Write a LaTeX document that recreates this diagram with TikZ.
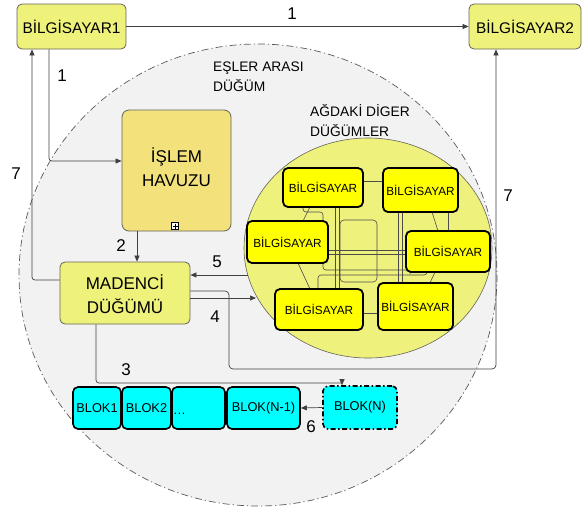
\documentclass[tikz,border=0pt]{standalone}
\usepackage{fontspec}
\setmainfont{Liberation Sans}
\usetikzlibrary{arrows.meta,calc}
\definecolor{pcyel}{RGB}{238,241,122}
\definecolor{poolcol}{RGB}{243,226,124}
\definecolor{netcol}{RGB}{238,241,124}
\definecolor{bigfill}{RGB}{242,242,242}
\definecolor{bigline}{RGB}{90,90,90}
\definecolor{pcs}{RGB}{255,255,0}
\definecolor{blkcol}{RGB}{0,255,255}
\definecolor{conncol}{RGB}{64,64,64}
\definecolor{bordcol}{RGB}{100,100,90}
\begin{document}
\begin{tikzpicture}[x=1pt,y=-1pt,
  pcbig/.style={draw=bordcol, fill=pcyel, rounded corners=5pt, inner sep=0pt, line width=0.8pt,
    font=\fontsize{15.4}{18}\selectfont},
  pool/.style={draw=bordcol, fill=poolcol, rounded corners=7pt, inner sep=0pt, line width=0.8pt},
  miner/.style={draw=bordcol, fill=pcyel, rounded corners=5pt, inner sep=0pt, line width=0.8pt},
  bigtxt/.style={align=center, inner sep=0pt, font=\fontsize{17}{24}\selectfont},
  pcsmall/.style={draw=black, fill=pcs, rounded corners=5pt, inner sep=0pt, line width=1.8pt,
    font=\fontsize{11.8}{14}\selectfont},
  blk/.style={draw=black, fill=blkcol, rounded corners=5pt, inner sep=0pt, line width=1.6pt,
    minimum height=42pt, font=\fontsize{12.8}{15}\selectfont},
  conn/.style={draw=conncol, line width=0.7pt, -{Triangle[length=6pt,width=5pt]}},
  plain/.style={draw=conncol, line width=0.7pt},
  netline/.style={draw=black!70, line width=0.6pt},
  num/.style={font=\fontsize{17}{20}\selectfont, inner sep=0pt},
  lab/.style={font=\fontsize{13.8}{20}\selectfont, align=left, anchor=north west, inner sep=0pt}
]
\useasboundingbox (0,0) rectangle (583,509);

% big peer-to-peer ellipse
\draw[fill=bigfill, draw=bigline, line width=0.7pt, dash pattern=on 7pt off 3pt on 1.2pt off 3pt]
  (258,275) ellipse [x radius=239, y radius=231];
\node[lab] (lbl1) at (213,62) {EŞLER ARASI\\DÜĞÜM};

% network ellipse
\draw[fill=netcol, draw=bordcol, line width=0.6pt] (368,248) ellipse [x radius=124, y radius=110];
\node[lab] (lbl2) at (310,104.5) {AĞDAKİ DİGER\\DÜĞÜMLER};

% interconnection lines
\draw[netline] (363,181) -- (383,181);
\draw[netline] (363,313) -- (378,313);
\draw[netline] (310,207) -- (303,221);
\draw[netline] (298,263) -- (310,289);
\draw[netline] (432,212) -- (438,231);
\draw[netline] (435,272) -- (430,283);
\draw[netline] (448,212) -- (448,231);
\draw[netline] (335,207) -- (335,289);
\draw[netline] (339,207) -- (339,289);
\draw[netline] (398,212) -- (398,283);
\draw[netline] (402,212) -- (402,283);
\draw[netline] (328,250) -- (406,250);
\draw[netline] (328,254) -- (406,254);
\draw[netline, rounded corners=4pt] (340,220) rectangle (377,282);
\draw[netline, rounded corners=3pt] (318,289) -- (318,275) -- (427,275) -- (427,272);
\draw[netline, rounded corners=3pt] (303,207) -- (303,212) -- (323,212) -- (323,221);
\draw[netline, rounded corners=3pt] (323,263) -- (323,270) -- (410,270) -- (410,272);

% small computers
\node[pcsmall, minimum width=80pt, minimum height=39pt] (n1) at (323,187.5) {BİLGİSAYAR};
\node[pcsmall, minimum width=75pt, minimum height=44pt] (n2) at (420.5,190) {BİLGİSAYAR};
\node[pcsmall, minimum width=81pt, minimum height=42pt] (n3) at (287.5,242) {BİLGİSAYAR};
\node[pcsmall, minimum width=84pt, minimum height=41pt] (n4) at (448,251.5) {BİLGİSAYAR};
\node[pcsmall, minimum width=88pt, minimum height=41pt] (n5) at (319,309.5) {BİLGİSAYAR};
\node[pcsmall, minimum width=75pt, minimum height=47pt] (n6) at (415.5,306.5) {BİLGİSAYAR};

% main nodes
\node[pcbig, minimum width=109pt, minimum height=45pt] (pc1) at (71.5,26.5) {BİLGİSAYAR1};
\node[pcbig, minimum width=112pt, minimum height=45pt] (pc2) at (525,26.5) {BİLGİSAYAR2};
\node[pool, minimum width=109pt, minimum height=121pt] (islem) at (176.5,170.5) {};
\node[bigtxt] (islemtxt) at (176.5,167) {İŞLEM\\HAVUZU};
\draw[line width=0.4pt, fill=white] (171.5,222.5) rectangle (178.5,229.5);
\draw[line width=0.4pt] (175,223.5) -- (175,228.5) (172.5,226) -- (177.5,226);
\node[miner, minimum width=130pt, minimum height=62pt] (mad) at (125,293) {};
\node[bigtxt] (madtxt) at (125,294.5) {MADENCİ\\DÜĞÜMÜ};

% blocks
\node[blk, minimum width=48pt] (b1) at (97,408) {BLOK1};
\node[blk, minimum width=49pt] (b2) at (146.5,408) {BLOK2};
\node[blk, minimum width=53pt] (b3) at (198.5,408) {};
\node[anchor=base west, inner sep=0pt, font=\fontsize{12.8}{15}\selectfont] (dots) at (173,414) {…};
\node[blk, minimum width=73pt] (b4) at (263.5,408) {BLOK(N-1)};
\node[blk, minimum width=74pt, minimum height=43pt, dash pattern=on 5pt off 2.5pt on 1.5pt off 2.5pt] (bn) at (360,407.5) {BLOK(N)};

% connectors
\draw[conn] (pc1.east) -- (pc2.west);
\node[num] (l1a) at (292,14) {1};

\coordinate (c1) at (49,161);
\draw[conn, rounded corners=3pt] (pc1.south -| c1) -- (c1) -- (islem.west |- c1);
\node[num] (l1b) at (62,76) {1};

\coordinate (c7a) at (32,280);
\draw[conn, rounded corners=3pt] (mad.west |- c7a) -- (c7a) -- (pc1.south -| c7a);
\node[num] (l7a) at (16,174) {7};

\coordinate (c2) at (137,250);
\draw[conn] (islem.south -| c2) -- (mad.north -| c2);
\node[num] (l2) at (121,246) {2};

\coordinate (c5) at (248,275);
\draw[conn] (c5) -- (mad.east |- c5);
\node[num] (l5) at (217,262) {5};

\coordinate (c4) at (256,298);
\draw[conn] (mad.east |- c4) -- (c4);
\node[num] (l4) at (215,317) {4};

\coordinate (c7b) at (229,291);
\coordinate (c7c) at (496,369);
\draw[conn, rounded corners=4pt] (mad.east |- c7b) -- (c7b) |- (c7c) -- (pc2.south -| c7c);
\node[num] (l7b) at (508,196) {7};

\coordinate (c3) at (96,383);
\coordinate (c3b) at (342,380.5);
\draw[plain, rounded corners=3pt] (mad.south -| c3) -- (c3) -- (c3 -| c3b);
\draw[conn] (c3b) -- (bn.north -| c3b);
\node[num] (l3) at (126,370) {3};

\draw[conn] (bn.west) -- (b4.east);
\node[num] (l6) at (311,427) {6};

\end{tikzpicture}
\end{document}
